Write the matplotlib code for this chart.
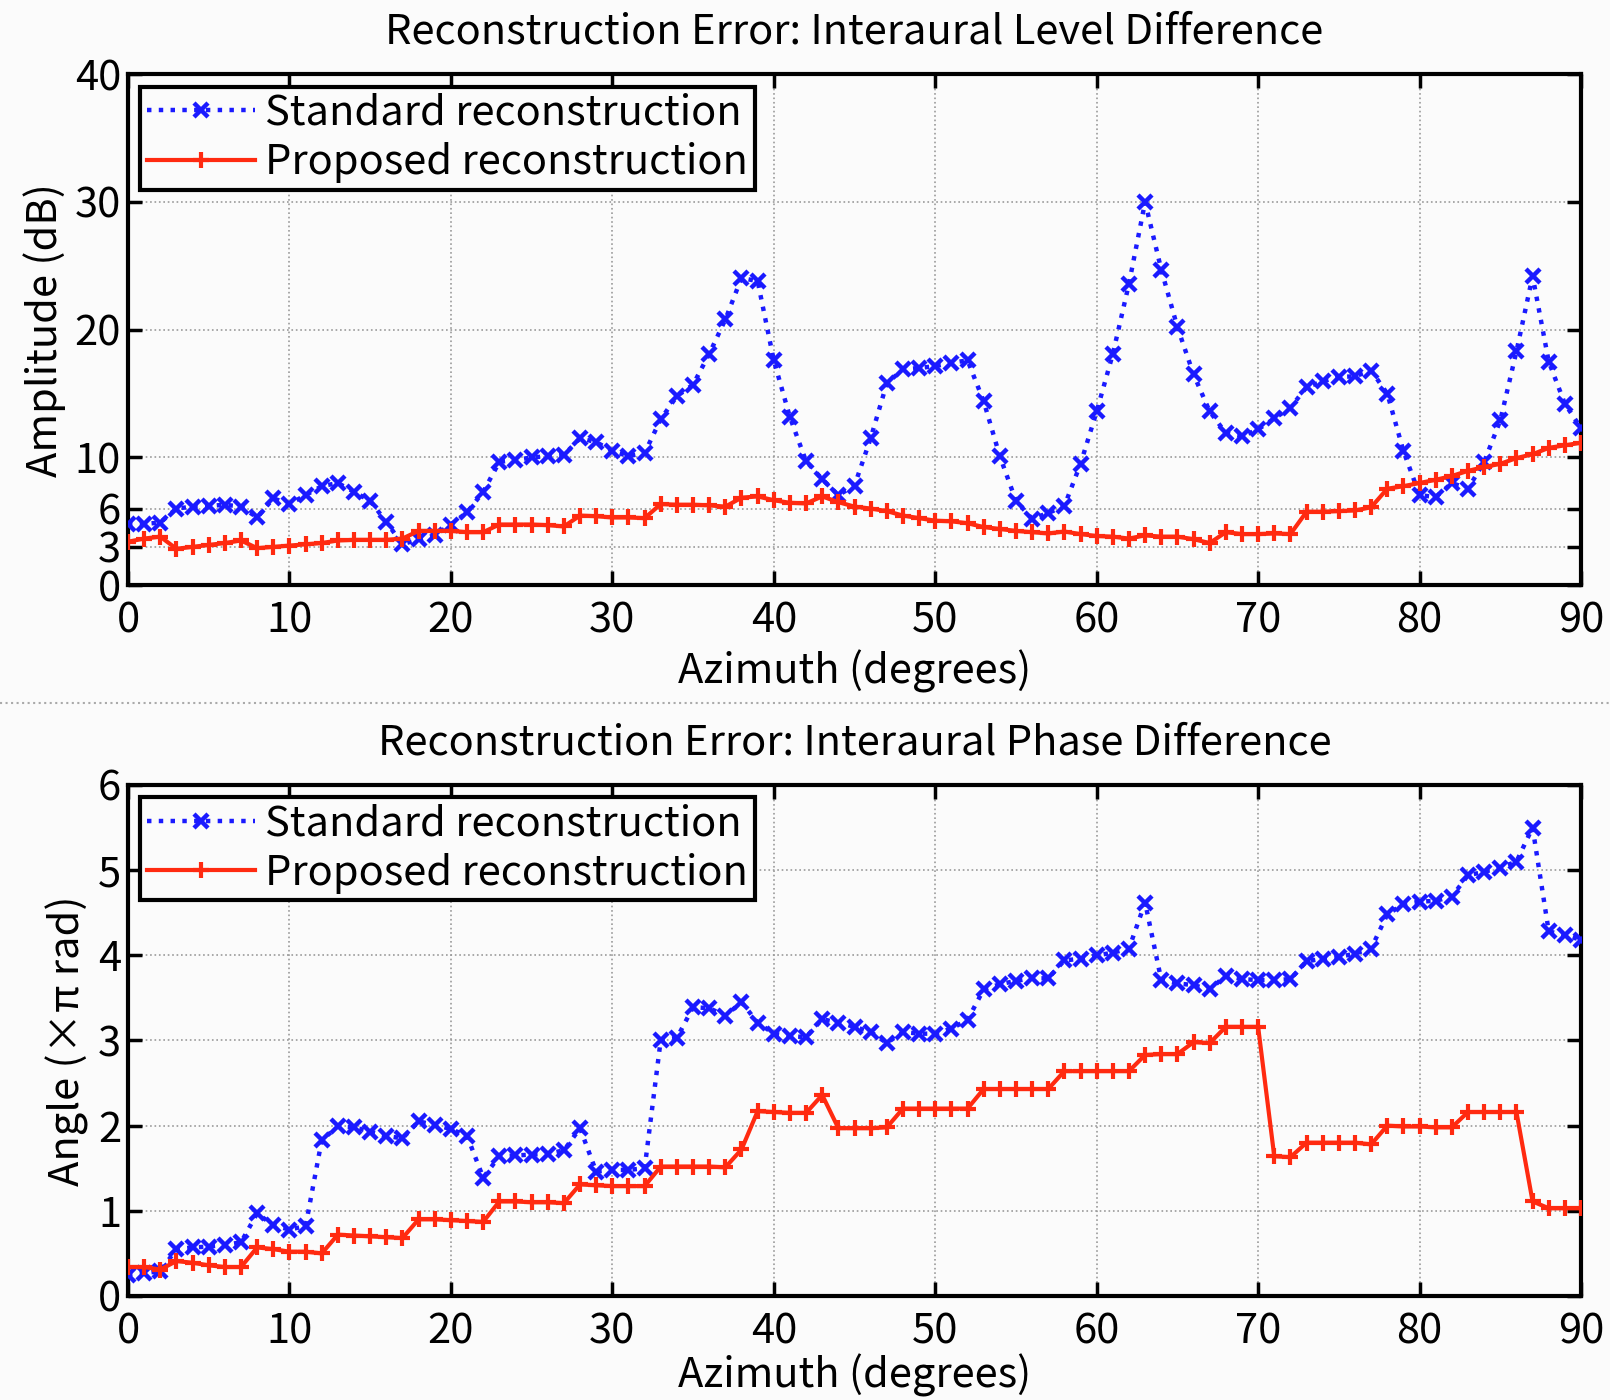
import matplotlib
matplotlib.use('Agg')
import matplotlib.pyplot as plt
import numpy as np

plt.rcParams['font.family'] = ['Noto Sans CJK JP', 'DejaVu Sans']

azimuth = np.arange(0, 91)

# Interaural level difference error (dB)
ild_standard = [
    4.8, 4.8, 4.9, 6.0, 6.15, 6.2, 6.3, 6.15, 5.3, 6.8,
    6.35, 7.05, 7.75, 8.0, 7.3, 6.6, 4.95, 3.2, 3.6, 3.9,
    4.75, 5.7, 7.3, 9.65, 9.8, 10.0, 10.1, 10.2, 11.5, 11.2,
    10.5, 10.1, 10.35, 13.0, 14.8, 15.7, 18.1, 20.8, 24.05, 23.8,
    17.6, 13.15, 9.7, 8.3, 7.05, 7.8, 11.5, 15.8, 16.9, 17.0,
    17.15, 17.4, 17.6, 14.4, 10.1, 6.6, 5.2, 5.65, 6.2, 9.5,
    13.6, 18.1, 23.6, 30.0, 24.7, 20.2, 16.5, 13.6, 11.9, 11.65,
    12.2, 13.05, 13.9, 15.5, 15.95, 16.3, 16.35, 16.8, 15.0, 10.5,
    7.05, 6.9, 8.0, 7.55, 9.65, 12.9, 18.3, 24.2, 17.5, 14.2,
    12.3,
]
ild_proposed = [
    3.4, 3.65, 3.8, 2.85, 3.0, 3.15, 3.3, 3.5, 2.9, 3.0,
    3.1, 3.2, 3.3, 3.5, 3.55, 3.55, 3.55, 3.65, 4.25, 4.25,
    4.25, 4.15, 4.15, 4.75, 4.75, 4.75, 4.7, 4.6, 5.45, 5.4,
    5.3, 5.3, 5.25, 6.35, 6.3, 6.3, 6.25, 6.15, 6.85, 6.95,
    6.65, 6.45, 6.4, 6.95, 6.5, 6.15, 6.0, 5.8, 5.45, 5.25,
    5.05, 5.0, 4.85, 4.55, 4.4, 4.25, 4.15, 4.05, 4.2, 4.0,
    3.85, 3.8, 3.65, 3.9, 3.8, 3.8, 3.6, 3.3, 4.15, 4.0,
    4.0, 4.05, 4.0, 5.75, 5.75, 5.8, 5.85, 6.1, 7.55, 7.75,
    8.0, 8.25, 8.55, 8.95, 9.25, 9.5, 9.95, 10.25, 10.75, 10.95,
    11.15,
]

# Interaural phase difference error (x pi rad)
ipd_standard = [
    0.25, 0.27, 0.29, 0.55, 0.57, 0.58, 0.6, 0.63, 0.97, 0.83,
    0.78, 0.82, 1.83, 1.99, 1.98, 1.93, 1.88, 1.85, 2.05, 2.01,
    1.96, 1.88, 1.39, 1.64, 1.65, 1.66, 1.67, 1.71, 1.97, 1.46,
    1.48, 1.48, 1.5, 3.01, 3.03, 3.39, 3.38, 3.29, 3.45, 3.21,
    3.08, 3.05, 3.04, 3.25, 3.21, 3.16, 3.1, 2.97, 3.1, 3.08,
    3.08, 3.14, 3.24, 3.6, 3.66, 3.7, 3.73, 3.73, 3.94, 3.96,
    4.0, 4.03, 4.08, 4.62, 3.71, 3.67, 3.65, 3.6, 3.76, 3.72,
    3.71, 3.71, 3.72, 3.93, 3.96, 3.98, 4.02, 4.08, 4.48, 4.6,
    4.63, 4.64, 4.69, 4.94, 4.98, 5.03, 5.1, 5.5, 4.28, 4.24,
    4.18,
]
ipd_proposed = [
    0.34, 0.34, 0.31, 0.41, 0.39, 0.36, 0.34, 0.34, 0.57, 0.55,
    0.52, 0.52, 0.5, 0.72, 0.71, 0.7, 0.69, 0.68, 0.9, 0.9,
    0.89, 0.88, 0.87, 1.11, 1.11, 1.1, 1.1, 1.09, 1.31, 1.3,
    1.29, 1.29, 1.29, 1.52, 1.52, 1.52, 1.52, 1.51, 1.72, 2.17,
    2.16, 2.15, 2.15, 2.36, 1.97, 1.97, 1.97, 1.98, 2.2, 2.2,
    2.2, 2.2, 2.2, 2.43, 2.43, 2.43, 2.43, 2.43, 2.64, 2.64,
    2.64, 2.64, 2.64, 2.83, 2.84, 2.84, 2.98, 2.97, 3.16, 3.16,
    3.16, 1.64, 1.63, 1.8, 1.8, 1.8, 1.8, 1.78, 2.0, 1.99,
    1.99, 1.98, 1.98, 2.16, 2.16, 2.16, 2.16, 1.11, 1.03, 1.03,
    1.03,
]

x_ticks = [0, 10, 20, 30, 40, 50, 60, 70, 80, 90]
ild_ticks = [0, 3, 6, 10, 20, 30, 40]
ipd_ticks = [0, 1, 2, 3, 4, 5, 6]

bg = '#fbfbfb'
fs = 30

fig = plt.figure(figsize=(16.1, 14), dpi=100, facecolor=bg)
ax1 = fig.add_axes([0.0795, 0.582, 0.9025, 0.365])
ax2 = fig.add_axes([0.0795, 0.0743, 0.9025, 0.365])

panels = [
    (ax1, ild_standard, ild_proposed, ild_ticks, (0, 40),
     'Reconstruction Error: Interaural Level Difference', 'Amplitude (dB)', 6),
    (ax2, ipd_standard, ipd_proposed, ipd_ticks, (0, 6),
     'Reconstruction Error: Interaural Phase Difference', 'Angle (×π rad)', 1),
]

for ax, std, prop, yt, ylim, title, ylabel, xpad in panels:
    ax.set_facecolor(bg)
    ax.plot(azimuth, std, color='#1a1aff', linestyle=':', linewidth=3.2,
            marker='x', markersize=10, markeredgewidth=3.2,
            label='Standard reconstruction', zorder=3)
    ax.plot(azimuth, prop, color='#ff2a10', linestyle='-', linewidth=3,
            marker='+', markersize=12, markeredgewidth=3,
            label='Proposed reconstruction', zorder=4)
    ax.set_xlim(0, 90)
    ax.set_ylim(*ylim)
    ax.set_xticks(x_ticks)
    ax.set_yticks(yt)
    ax.grid(True, color='#9a9a9a', linestyle=':', linewidth=1.2)
    ax.tick_params(direction='in', length=10, width=2.5, labelsize=fs,
                   top=True, right=True, pad=5)
    ax.tick_params(axis='x', pad=11)
    for s in ax.spines.values():
        s.set_linewidth(3)
    ax.set_title(title, fontsize=fs, pad=22)
    ax.set_xlabel('Azimuth (degrees)', fontsize=fs, labelpad=xpad)
    ax.set_ylabel(ylabel, fontsize=fs, labelpad=6)
    leg = ax.legend(loc='upper left', fontsize=fs, fancybox=False,
                    borderaxespad=0.3, handlelength=2.6, handletextpad=0.25,
                    labelspacing=0.2, borderpad=0.15, framealpha=1)
    leg.get_frame().set_edgecolor('black')
    leg.get_frame().set_linewidth(3)
    leg.get_frame().set_facecolor(bg)

# dotted separator between the two panels
fig.add_artist(plt.Line2D([0, 1], [0.498, 0.498], color='#aaaaaa',
                          linestyle=':', linewidth=1.5, transform=fig.transFigure))

fig.savefig('out.png', dpi=100, facecolor=bg)
